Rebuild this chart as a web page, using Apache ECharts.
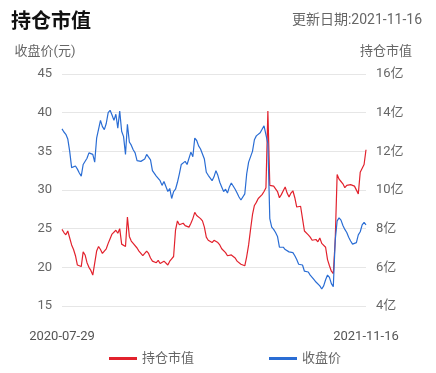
<!DOCTYPE html>
<html>
<head>
<meta charset="utf-8">
<script src="https://cdn.jsdelivr.net/npm/echarts@6/dist/echarts.min.js"></script>
<style>
html,body{margin:0;padding:0;background:#fff;}
#chart{width:436px;height:373px;}
</style>
</head>
<body>
<div id="chart"></div>
<script>
var dates = [
'2020-07-29',
'2020-08-01','2020-08-04','2020-08-07','2020-08-10','2020-08-13','2020-08-16','2020-08-19','2020-08-22','2020-08-25','2020-08-28','2020-08-31',
'2020-09-03','2020-09-06','2020-09-09','2020-09-12','2020-09-15','2020-09-18','2020-09-21','2020-09-24','2020-09-27','2020-09-30',
'2020-10-03','2020-10-06','2020-10-09','2020-10-12','2020-10-15','2020-10-18','2020-10-21','2020-10-24','2020-10-27','2020-10-30',
'2020-11-02','2020-11-05','2020-11-08','2020-11-11','2020-11-14','2020-11-17','2020-11-20','2020-11-23','2020-11-26','2020-11-29',
'2020-12-02','2020-12-05','2020-12-08','2020-12-11','2020-12-14','2020-12-17','2020-12-20','2020-12-23','2020-12-26','2020-12-29',
'2021-01-01','2021-01-04','2021-01-07','2021-01-10','2021-01-13','2021-01-16','2021-01-19','2021-01-22','2021-01-25','2021-01-28','2021-01-31',
'2021-02-03','2021-02-06','2021-02-09','2021-02-12','2021-02-15','2021-02-18','2021-02-21','2021-02-24','2021-02-27',
'2021-03-02','2021-03-05','2021-03-08','2021-03-11','2021-03-14','2021-03-17','2021-03-20','2021-03-23','2021-03-26','2021-03-29',
'2021-04-01','2021-04-04','2021-04-07','2021-04-10','2021-04-13','2021-04-16','2021-04-19','2021-04-22','2021-04-25','2021-04-28',
'2021-05-01','2021-05-04','2021-05-07','2021-05-10','2021-05-13','2021-05-16','2021-05-19','2021-05-22','2021-05-25','2021-05-28','2021-05-31',
'2021-06-03','2021-06-06','2021-06-09','2021-06-12','2021-06-15','2021-06-18','2021-06-21','2021-06-24','2021-06-27','2021-06-30',
'2021-07-03','2021-07-06','2021-07-09','2021-07-12','2021-07-15','2021-07-18','2021-07-21','2021-07-24','2021-07-27','2021-07-30',
'2021-08-02','2021-08-05','2021-08-08','2021-08-11','2021-08-14','2021-08-17','2021-08-20','2021-08-23','2021-08-26','2021-08-29',
'2021-09-01','2021-09-04','2021-09-07','2021-09-10','2021-09-13','2021-09-16','2021-09-19','2021-09-22','2021-09-25','2021-09-28',
'2021-10-01','2021-10-04','2021-10-07','2021-10-10','2021-10-13','2021-10-16','2021-10-19','2021-10-22','2021-10-25','2021-10-28','2021-10-31',
'2021-11-03','2021-11-06','2021-11-09','2021-11-12','2021-11-16'
];

// 收盘价 (元)
var closePrice = [
37.9,37.5,37.2,36.6,35.0,32.9,32.7,33.1,32.7,32.2,
31.8,33.3,33.5,34.1,34.8,35.0,34.6,33.6,36.7,36.8,
39.0,38.2,37.8,38.6,40.0,40.3,39.7,39.0,39.8,38.0,
40.2,37.6,36.9,34.6,38.5,36.2,35.8,35.2,34.8,33.8,
33.7,33.7,33.7,34.0,34.6,34.5,33.9,32.5,32.5,31.8,
31.9,31.2,30.6,31.1,31.2,29.8,30.2,28.9,29.8,30.1,
31.0,32.1,33.3,33.2,33.7,33.3,33.5,34.9,34.3,36.7,
36.4,35.7,35.3,35.3,34.0,32.3,31.9,31.7,31.2,31.7,
32.5,31.9,31.0,30.4,29.8,30.1,29.6,30.4,30.9,30.9,
30.1,29.6,29.1,28.7,28.5,29.5,32.1,33.6,33.8,35.0,
36.5,37.0,37.0,37.4,37.6,38.3,38.3,36.0,26.3,25.2,
24.9,24.5,24.0,22.6,22.6,22.6,22.3,22.5,22.0,22.0,
21.9,21.5,21.0,20.4,20.4,20.3,19.5,19.3,19.4,19.0,
18.7,18.4,18.1,17.9,17.6,17.2,17.6,18.4,19.0,18.7,
17.9,17.5,23.5,26.0,26.4,26.1,25.4,24.9,24.5,23.9,
23.4,23.0,22.8,23.2,24.2,24.6,25.5,25.8,25.5
];

// 持仓市值 (亿)
var holdingValue = [
7.96,7.80,7.68,7.88,7.88,7.16,6.92,6.60,6.12,6.04,
6.04,6.80,6.64,6.24,6.00,5.84,5.60,5.52,6.84,7.08,
6.92,6.72,6.76,6.96,7.24,7.48,7.72,7.76,7.92,7.76,
8.00,7.20,7.16,7.08,8.60,7.60,7.36,7.24,7.24,7.00,
6.84,6.72,6.60,6.64,6.84,6.72,6.48,6.32,6.28,6.24,
6.36,6.20,6.12,6.32,6.40,6.12,6.32,6.44,6.56,7.92,
8.40,8.20,8.16,8.28,8.16,8.24,8.08,8.28,8.52,8.84,
8.68,8.64,8.52,8.40,8.08,7.56,7.40,7.32,7.28,7.40,
7.36,7.28,7.16,6.96,6.88,6.76,6.60,6.68,6.64,6.56,
6.48,6.32,6.24,6.16,6.12,6.08,6.56,7.16,7.96,8.72,
9.20,9.36,9.56,9.64,9.76,9.92,10.12,14.08,10.24,10.28,
10.20,10.24,9.92,9.60,9.76,9.96,10.16,9.84,9.64,9.84,
9.96,9.60,9.12,9.08,9.16,8.52,7.88,7.84,7.68,7.56,
7.40,7.40,7.44,7.32,7.52,7.24,7.24,7.04,6.40,6.08,
5.80,5.68,7.40,10.80,10.56,10.44,10.32,10.12,10.24,10.24,
10.28,10.32,10.20,10.20,9.80,10.92,10.92,11.32,12.08
];

var leftTicks = {min: 15, max: 45, interval: 5};
var rightTicks = {min: 4, max: 16, interval: 2};
var titleText = '持仓市值';
var updateText = '更新日期:2021-11-16';

var chart = echarts.init(document.getElementById('chart'));
var lastIdx = dates.length - 1;
chart.setOption({
  animation: false,
  backgroundColor: '#fff',
  textStyle: {fontFamily: 'Roboto, "Noto Sans CJK SC", sans-serif'},
  title: [
    {text: titleText, left: 6, top: 5, textStyle: {fontSize: 20, fontWeight: 'bold', color: '#111', fontFamily: '"Noto Sans CJK SC", sans-serif'}},
    {text: updateText, right: 9, top: 9, textStyle: {fontSize: 14, fontWeight: 'normal', color: '#666', fontFamily: 'Roboto, "Noto Sans CJK SC", sans-serif'}}
  ],
  legend: {
    left: 104, top: 347,
    icon: 'rect', itemWidth: 28, itemHeight: 3, itemGap: 75,
    textStyle: {fontSize: 13, color: '#666'},
    data: ['持仓市值', '收盘价']
  },
  grid: {left: 62, right: 70, top: 74, bottom: 67},
  xAxis: {
    type: 'category',
    data: dates,
    boundaryGap: false,
    axisLine: {show: false},
    axisTick: {show: false},
    axisLabel: {
      color: '#555', fontSize: 13, margin: 24,
      interval: function (i) { return i === 0 || i === lastIdx; },
      showMinLabel: true, showMaxLabel: true
    },
    splitLine: {show: false}
  },
  yAxis: [
    {
      type: 'value', position: 'left',
      min: leftTicks.min, max: leftTicks.max, interval: leftTicks.interval,
      name: '收盘价(元)', nameLocation: 'end', nameGap: 16,
      nameTextStyle: {color: '#666', fontSize: 13, align: 'center', padding: [0, 34, 0, 0]},
      axisLine: {show: false}, axisTick: {show: false},
      axisLabel: {color: '#666', fontSize: 13, margin: 10},
      splitLine: {lineStyle: {color: '#e6e6e6', width: 1}}
    },
    {
      type: 'value', position: 'right',
      min: rightTicks.min, max: rightTicks.max, interval: rightTicks.interval,
      name: '持仓市值', nameLocation: 'end', nameGap: 16,
      nameTextStyle: {color: '#666', fontSize: 13, align: 'center', padding: [0, 0, 0, 40]},
      axisLine: {show: false}, axisTick: {show: false},
      axisLabel: {color: '#666', fontSize: 13, margin: 10, formatter: '{value}亿'},
      splitLine: {show: false}
    }
  ],
  series: [
    {
      name: '持仓市值', type: 'line', yAxisIndex: 1, data: holdingValue,
      showSymbol: false, symbol: 'none',
      lineStyle: {color: '#e2222d', width: 1.2},
      itemStyle: {color: '#e2222d'}
    },
    {
      name: '收盘价', type: 'line', yAxisIndex: 0, data: closePrice,
      showSymbol: false, symbol: 'none',
      lineStyle: {color: '#2a6dd4', width: 1.2},
      itemStyle: {color: '#2a6dd4'}
    }
  ]
});
</script>
</body>
</html>
